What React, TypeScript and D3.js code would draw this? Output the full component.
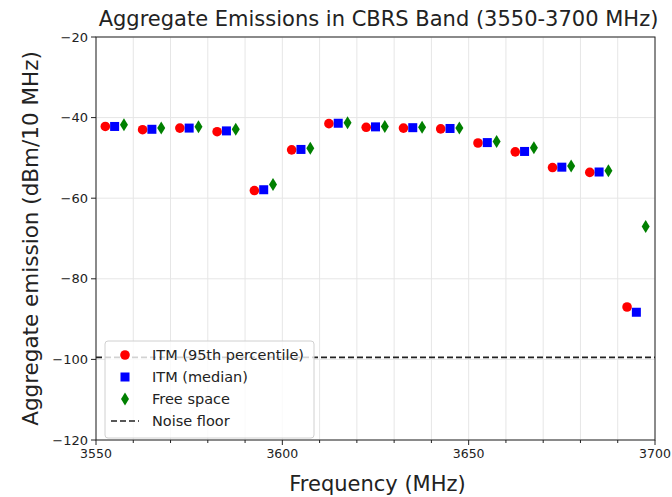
import { useEffect, useRef } from "react";
import * as d3 from "d3";

// channel centres (MHz)
const channels = [3555, 3565, 3575, 3585, 3595, 3605, 3615, 3625, 3635, 3645, 3655, 3665, 3675, 3685, 3695];

// aggregate emission (dBm/10 MHz)
const itm95 = [-42.2, -43.0, -42.6, -43.5, -58.1, -48.0, -41.5, -42.4, -42.6, -42.8, -46.3, -48.5, -52.4, -53.6, -87.0];
const itmMedian = [-42.2, -42.9, -42.6, -43.3, -57.9, -47.9, -41.4, -42.3, -42.5, -42.7, -46.2, -48.4, -52.3, -53.5, -88.3];
const freeSpace = [-41.8, -42.6, -42.3, -42.9, -56.6, -47.6, -41.3, -42.2, -42.4, -42.6, -45.9, -47.5, -52.0, -53.2, -67.0];

const noiseFloor = -99.5;

const xMajorTicks = [3550, 3600, 3650, 3700];
const xMinorTicks = [3560, 3570, 3580, 3590, 3610, 3620, 3630, 3640, 3660, 3670, 3680, 3690];
const yTicks = [-20, -40, -60, -80, -100, -120];

const legendLabels = ["ITM (95th percentile)", "ITM (median)", "Free space", "Noise floor"];

const FONT = "DejaVu Sans, sans-serif";

export default function App() {
  const svgRef = useRef<SVGSVGElement>(null);
  const width = 672;
  const height = 497;

  useEffect(() => {
    if (!svgRef.current) return;
    d3.select(svgRef.current).selectAll("*").remove();

    const svg = d3.select(svgRef.current).attr("width", width).attr("height", height);

    const margin = { top: 37, right: 17, bottom: 57, left: 96 };
    const innerWidth = width - margin.left - margin.right;
    const innerHeight = height - margin.top - margin.bottom;

    const x = d3.scaleLinear().domain([3550, 3700]).range([0, innerWidth]);
    const y = d3.scaleLinear().domain([-120, -20]).range([innerHeight, 0]);

    svg.append("rect").attr("width", width).attr("height", height).attr("fill", "#fff");

    const g = svg.append("g").attr("transform", `translate(${margin.left},${margin.top})`);

    // grid
    g.selectAll(".vgrid")
      .data([...xMajorTicks, ...xMinorTicks])
      .enter()
      .append("line")
      .attr("x1", (d) => x(d))
      .attr("x2", (d) => x(d))
      .attr("y1", 0)
      .attr("y2", innerHeight)
      .attr("stroke", "#e6e6e6")
      .attr("stroke-width", 1);

    g.selectAll(".hgrid")
      .data(yTicks)
      .enter()
      .append("line")
      .attr("x1", 0)
      .attr("x2", innerWidth)
      .attr("y1", (d) => y(d))
      .attr("y2", (d) => y(d))
      .attr("stroke", "#e6e6e6")
      .attr("stroke-width", 1);

    // noise floor
    g.append("line")
      .attr("x1", 0)
      .attr("x2", innerWidth)
      .attr("y1", y(noiseFloor))
      .attr("y2", y(noiseFloor))
      .attr("stroke", "#222")
      .attr("stroke-width", 1.6)
      .attr("stroke-dasharray", "6,3");

    const diamond = (cx: number, cy: number, w: number, h: number) =>
      `M${cx},${cy - h / 2}L${cx + w / 2},${cy}L${cx},${cy + h / 2}L${cx - w / 2},${cy}Z`;

    // ITM 95th percentile
    g.selectAll(".p95")
      .data(itm95)
      .enter()
      .append("circle")
      .attr("cx", (_, i) => x(channels[i] - 2.5))
      .attr("cy", (d) => y(d))
      .attr("r", 4.8)
      .attr("fill", "#ff0000");

    // ITM median
    g.selectAll(".med")
      .data(itmMedian)
      .enter()
      .append("rect")
      .attr("x", (_, i) => x(channels[i]) - 4.5)
      .attr("y", (d) => y(d) - 4.5)
      .attr("width", 9)
      .attr("height", 9)
      .attr("fill", "#0000ff");

    // free space
    g.selectAll(".fs")
      .data(freeSpace)
      .enter()
      .append("path")
      .attr("d", (d, i) => diamond(x(channels[i] + 2.5), y(d), 8, 13))
      .attr("fill", "#008000");

    // frame
    g.append("rect")
      .attr("width", innerWidth)
      .attr("height", innerHeight)
      .attr("fill", "none")
      .attr("stroke", "#222")
      .attr("stroke-width", 1);

    // x axis
    const xAxis = g.append("g").attr("transform", `translate(0,${innerHeight})`);
    xAxis
      .selectAll(".xmin")
      .data(xMinorTicks)
      .enter()
      .append("line")
      .attr("x1", (d) => x(d))
      .attr("x2", (d) => x(d))
      .attr("y1", 0)
      .attr("y2", 3)
      .attr("stroke", "#222");
    xAxis
      .selectAll(".xmaj")
      .data(xMajorTicks)
      .enter()
      .append("line")
      .attr("x1", (d) => x(d))
      .attr("x2", (d) => x(d))
      .attr("y1", 0)
      .attr("y2", 5)
      .attr("stroke", "#222");
    xAxis
      .selectAll(".xlab")
      .data(xMajorTicks)
      .enter()
      .append("text")
      .attr("x", (d) => x(d))
      .attr("y", 18)
      .attr("text-anchor", "middle")
      .attr("font-family", FONT)
      .attr("font-size", 12.5)
      .attr("fill", "#222")
      .text((d) => d);

    // y axis
    const yAxis = g.append("g");
    yAxis
      .selectAll(".ymaj")
      .data(yTicks)
      .enter()
      .append("line")
      .attr("x1", -5)
      .attr("x2", 0)
      .attr("y1", (d) => y(d))
      .attr("y2", (d) => y(d))
      .attr("stroke", "#222");
    yAxis
      .selectAll(".ylab")
      .data(yTicks)
      .enter()
      .append("text")
      .attr("x", -8)
      .attr("y", (d) => y(d))
      .attr("dy", "0.35em")
      .attr("text-anchor", "end")
      .attr("font-family", FONT)
      .attr("font-size", 13)
      .attr("fill", "#222")
      .text((d) => `\u2212${Math.abs(d)}`);

    // titles
    svg
      .append("text")
      .attr("x", margin.left + innerWidth / 2 + 3)
      .attr("y", 26)
      .attr("text-anchor", "middle")
      .attr("font-family", FONT)
      .attr("font-size", 21)
      .attr("fill", "#222")
      .text("Aggregate Emissions in CBRS Band (3550-3700 MHz)");

    svg
      .append("text")
      .attr("x", margin.left + innerWidth / 2 + 2)
      .attr("y", 491)
      .attr("text-anchor", "middle")
      .attr("font-family", FONT)
      .attr("font-size", 21)
      .attr("fill", "#222")
      .text("Frequency (MHz)");

    svg
      .append("text")
      .attr("transform", "rotate(-90)")
      .attr("x", -(margin.top + innerHeight / 2))
      .attr("y", 38)
      .attr("text-anchor", "middle")
      .attr("font-family", FONT)
      .attr("font-size", 21.5)
      .attr("fill", "#222")
      .text("Aggregate emission (dBm/10 MHz)");

    // legend
    const lg = g.append("g").attr("transform", "translate(9,304)");
    lg.append("rect")
      .attr("width", 209)
      .attr("height", 97)
      .attr("rx", 3)
      .attr("fill", "#fff")
      .attr("fill-opacity", 0.8)
      .attr("stroke", "#d0d0d0");

    legendLabels.forEach((label, i) => {
      const cy = 14 + i * 22;
      const mx = 20;
      if (i === 0) lg.append("circle").attr("cx", mx).attr("cy", cy).attr("r", 4.8).attr("fill", "#ff0000");
      if (i === 1)
        lg.append("rect").attr("x", mx - 4.5).attr("y", cy - 4.5).attr("width", 9).attr("height", 9).attr("fill", "#0000ff");
      if (i === 2) lg.append("path").attr("d", diamond(mx, cy, 8, 13)).attr("fill", "#008000");
      if (i === 3)
        lg.append("line")
          .attr("x1", 6)
          .attr("x2", 34)
          .attr("y1", cy)
          .attr("y2", cy)
          .attr("stroke", "#222")
          .attr("stroke-width", 1.6)
          .attr("stroke-dasharray", "6,3");
      lg.append("text")
        .attr("x", 47)
        .attr("y", cy)
        .attr("dy", "0.35em")
        .attr("font-family", FONT)
        .attr("font-size", 14.5)
        .attr("fill", "#222")
        .text(label);
    });
  }, []);

  return (
    <div style={{ position: "absolute", left: 0, top: 0 }}>
      <svg ref={svgRef} style={{ display: "block" }} />
    </div>
  );
}
